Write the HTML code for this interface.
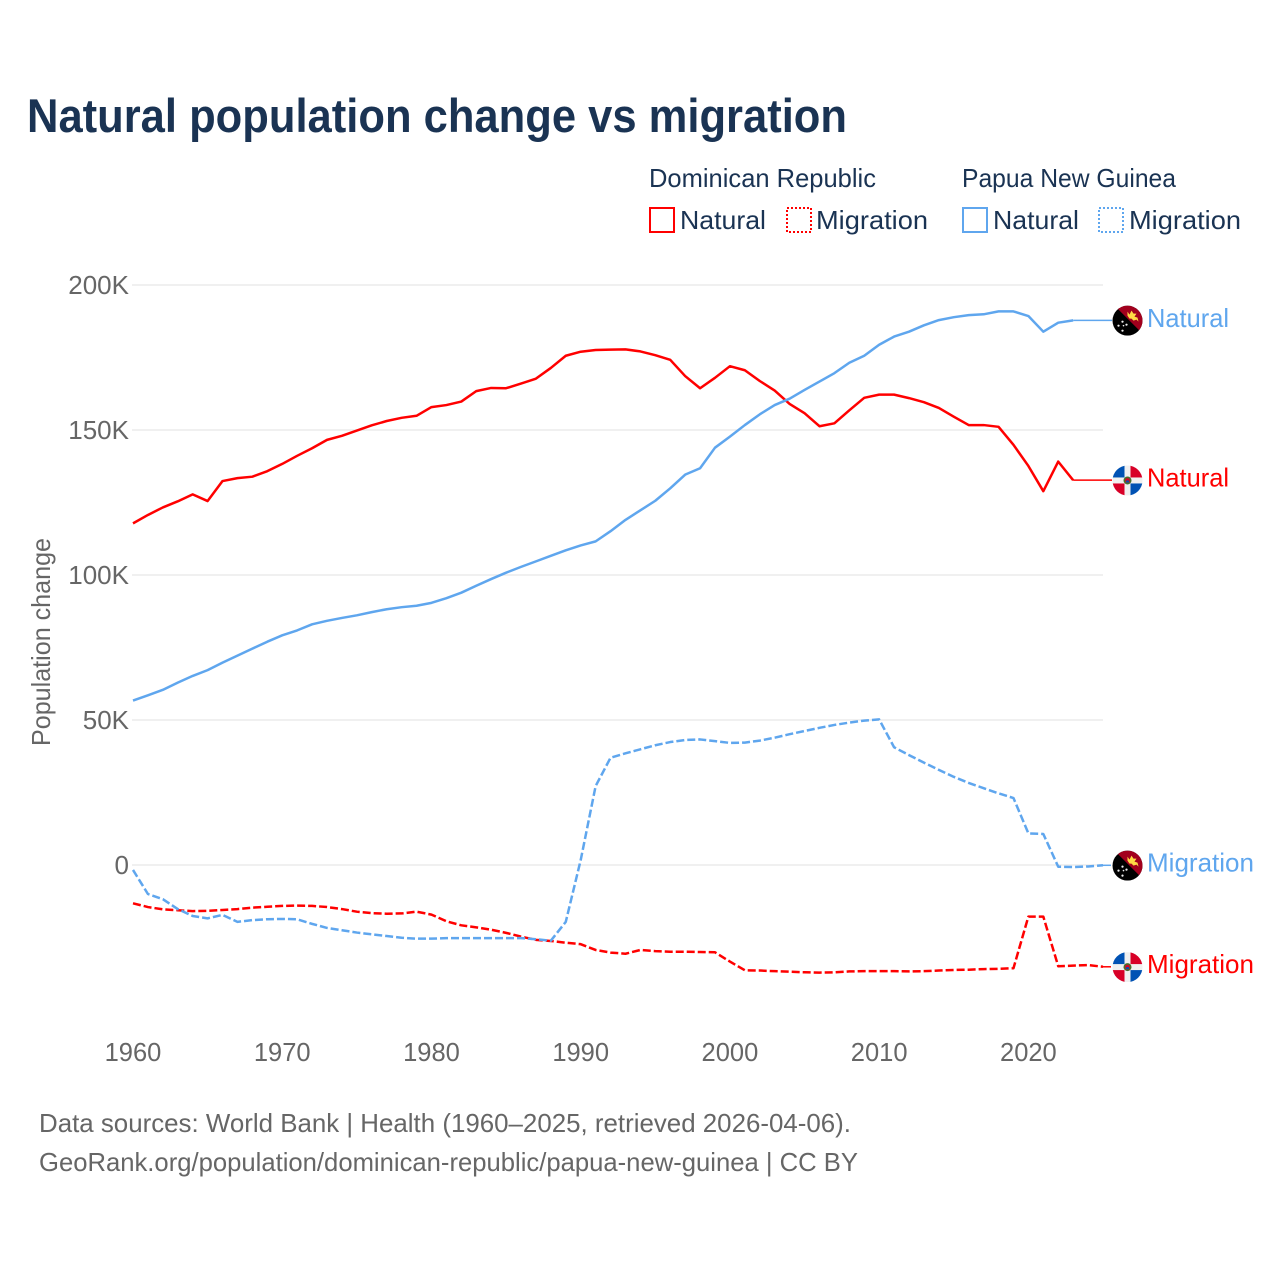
<!DOCTYPE html>
<html lang="en">
<head>
<meta charset="utf-8">
<title>Natural population change vs migration</title>
<style>
html,body{margin:0;padding:0;background:#fff}
svg{display:block}
text{font-family:"Liberation Sans",sans-serif}
</style>
</head>
<body>
<svg id="chart" xmlns="http://www.w3.org/2000/svg" width="1280" height="1280" viewBox="0 0 1280 1280">
  <defs>
    <clipPath id="flag-clip"><circle cx="0" cy="0" r="15"/></clipPath>
    <g id="flag-png" clip-path="url(#flag-clip)">
      <rect x="-15" y="-15" width="30" height="30" fill="#000"/>
      <polygon points="-13,-15 15,-15 15,13" fill="#a2001d"/>
      <polygon points="0,-9 2,-6 4,-10 6,-7 9,-7 7,-4 10,-3 11,1 9,-1 6,0 4,-2 2,-2 0,-5" fill="#ffda44"/>
      <circle cx="-5" cy="1" r="1.1" fill="#f0f0f0"/>
      <circle cx="-1" cy="4" r="1.1" fill="#f0f0f0"/>
      <circle cx="-9" cy="5" r="1.1" fill="#f0f0f0"/>
      <circle cx="-4" cy="5" r="0.8" fill="#f0f0f0"/>
      <circle cx="-5" cy="10" r="1.1" fill="#f0f0f0"/>
    </g>
    <g id="flag-dr" clip-path="url(#flag-clip)">
      <rect x="-15" y="-15" width="30" height="30" fill="#f0f0f0"/>
      <rect x="-15" y="-15" width="12" height="12" fill="#0052b4"/>
      <rect x="3" y="-15" width="12" height="12" fill="#d80027"/>
      <rect x="-15" y="3" width="12" height="12" fill="#d80027"/>
      <rect x="3" y="3" width="12" height="12" fill="#0052b4"/>
      <circle cx="0" cy="0" r="4" fill="#496e2d"/>
      <circle cx="0" cy="0" r="2.4" fill="#d80027"/>
      <rect x="-1.4" y="0" width="2.8" height="2" fill="#0052b4"/>
    </g>
  </defs>

  <text x="27" y="132" font-size="47" font-weight="700" fill="#1a3353" textLength="820" lengthAdjust="spacingAndGlyphs">Natural population change vs migration</text>

  <g fill="#1a3353" font-size="26">
    <text x="649" y="187" textLength="227" lengthAdjust="spacingAndGlyphs">Dominican Republic</text>
    <text x="962" y="187" textLength="214" lengthAdjust="spacingAndGlyphs">Papua New Guinea</text>
    <rect x="650" y="208" width="24" height="24" fill="none" stroke="#ff0000" stroke-width="2"/>
    <text x="680" y="229" textLength="86" lengthAdjust="spacingAndGlyphs">Natural</text>
    <rect x="787" y="208" width="24" height="24" fill="none" stroke="#ff0000" stroke-width="2" stroke-dasharray="2 2"/>
    <text x="816" y="229" textLength="112" lengthAdjust="spacingAndGlyphs">Migration</text>
    <rect x="963" y="208" width="24" height="24" fill="none" stroke="#5fa6ee" stroke-width="2"/>
    <text x="993" y="229" textLength="86" lengthAdjust="spacingAndGlyphs">Natural</text>
    <rect x="1099" y="208" width="24" height="24" fill="none" stroke="#5fa6ee" stroke-width="2" stroke-dasharray="2 2"/>
    <text x="1129" y="229" textLength="112" lengthAdjust="spacingAndGlyphs">Migration</text>
  </g>

  <g id="grid"></g>
  <g id="y-axis"></g>
  <g id="x-axis"></g>
  <text transform="translate(50,642) rotate(-90)" text-anchor="middle" font-size="26" fill="#666666" textLength="208" lengthAdjust="spacingAndGlyphs">Population change</text>
  <g id="series"></g>

  <g font-size="26" fill="#666666">
    <text x="39" y="1132" textLength="812" lengthAdjust="spacingAndGlyphs">Data sources: World Bank | Health (1960–2025, retrieved 2026-04-06).</text>
    <text x="39" y="1171" textLength="819" lengthAdjust="spacingAndGlyphs">GeoRank.org/population/dominican-republic/papua-new-guinea | CC BY</text>
  </g>
</svg>

<script>
// Values in thousands of people per year, starting at 1960.
const startYear = 1960;
const endYear = 2025;
const yTickValues = [0, 50, 100, 150, 200];
const yTickLabels = ["0", "50K", "100K", "150K", "200K"];
const xTickYears = [1960, 1970, 1980, 1990, 2000, 2010, 2020];

const drNatural = [117.8,120.7,123.3,125.4,127.8,125.5,132.4,133.4,133.9,135.8,138.3,141.1,143.7,146.6,148.0,149.8,151.6,153.1,154.2,154.9,157.9,158.6,159.8,163.4,164.5,164.4,166.0,167.7,171.4,175.6,177.0,177.6,177.7,177.8,177.1,175.8,174.2,168.6,164.4,168.0,172.0,170.6,166.9,163.6,159.0,155.8,151.3,152.3,156.8,161.1,162.2,162.2,161.0,159.6,157.6,154.6,151.7,151.7,151.1,144.9,137.6,128.9,139.1,132.7];
const pngNatural = [56.7,58.5,60.4,62.9,65.2,67.2,69.8,72.2,74.6,77.0,79.2,80.9,83.0,84.2,85.2,86.1,87.2,88.2,88.9,89.4,90.4,92.0,93.9,96.3,98.6,100.8,102.8,104.7,106.6,108.5,110.2,111.6,115.1,119.0,122.3,125.6,129.9,134.6,136.8,143.9,147.7,151.7,155.4,158.6,160.8,163.8,166.7,169.6,173.2,175.6,179.4,182.2,183.9,186.1,187.9,188.9,189.6,189.9,190.9,190.9,189.3,183.9,187.0,187.8];
const drMigration = [-13.2,-14.5,-15.3,-15.6,-15.9,-15.8,-15.5,-15.2,-14.7,-14.4,-14.1,-14.0,-14.1,-14.5,-15.2,-16.1,-16.6,-16.8,-16.7,-16.1,-17.1,-19.4,-20.8,-21.5,-22.3,-23.4,-24.7,-25.8,-26.2,-26.8,-27.3,-29.3,-30.2,-30.6,-29.3,-29.7,-29.9,-29.9,-30.0,-30.1,-33.3,-36.3,-36.4,-36.6,-36.8,-37.0,-37.1,-37.0,-36.7,-36.6,-36.6,-36.6,-36.7,-36.6,-36.4,-36.2,-36.1,-35.9,-35.8,-35.6,-17.8,-17.8,-34.9,-34.7,-34.5,-35.1];
const pngMigration = [-1.7,-10.0,-11.8,-15.2,-17.6,-18.4,-17.2,-19.6,-19.0,-18.7,-18.6,-18.7,-20.3,-21.7,-22.5,-23.3,-23.9,-24.5,-25.1,-25.4,-25.4,-25.2,-25.2,-25.2,-25.2,-25.2,-25.2,-25.6,-26.1,-19.6,1.7,27.2,37.0,38.5,39.9,41.3,42.4,43.1,43.3,42.7,42.1,42.2,42.9,43.9,45.1,46.2,47.3,48.3,49.1,49.8,50.2,40.6,37.9,35.3,32.8,30.4,28.3,26.5,24.7,23.1,10.9,10.7,-0.6,-0.7,-0.5,-0.1];

const SVG_NS = "http://www.w3.org/2000/svg";
const plotLeft = 133, plotRight = 1103, y0Pixel = 865, pxPerThousand = 2.9, connectorEnd = 1112;

function xScale(year) {
  return plotLeft + (year - startYear) * (plotRight - plotLeft) / (endYear - startYear);
}
function yScale(value) {
  return y0Pixel - value * pxPerThousand;
}
function make(tag, attrs, parent) {
  const el = document.createElementNS(SVG_NS, tag);
  for (const k in attrs) el.setAttribute(k, attrs[k]);
  parent.appendChild(el);
  return el;
}

const grid = document.getElementById("grid");
const yAxis = document.getElementById("y-axis");
const xAxis = document.getElementById("x-axis");
const seriesLayer = document.getElementById("series");

yTickValues.forEach(function (v, i) {
  const line = make("line", {x1: plotLeft - 1, x2: plotRight, y1: yScale(v), y2: yScale(v), stroke: "#ebebeb", "stroke-width": 1.5}, grid);
  
  
  const label = make("text", {x: 129, y: yScale(v) + 9, "text-anchor": "end", "font-size": 26, fill: "#666666"}, yAxis);
  label.textContent = yTickLabels[i];
  
  
});

xTickYears.forEach(function (year) {
  const label = make("text", {x: xScale(year), y: 1061, "text-anchor": "middle", "font-size": 25.5, fill: "#666666"}, xAxis);
  label.textContent = String(year);
  
  
});

function drawSeries(values, color, dashed, flagId, labelText, seriesName) {
  const pts = values.map(function (v, i) {
    return xScale(startYear + i).toFixed(2) + "," + yScale(v).toFixed(2);
  });
  const attrs = {points: pts.join(" "), fill: "none", stroke: color, "stroke-width": 2.5, "stroke-linejoin": "round"};
  if (dashed) attrs["stroke-dasharray"] = "8 3";
  const line = make("polyline", attrs, seriesLayer);
  
  

  const last = values[values.length - 1];
  const lastX = xScale(startYear + values.length - 1);
  const lastY = yScale(last);

  const cAttrs = {x1: lastX, y1: lastY, x2: connectorEnd, y2: lastY, stroke: color, "stroke-width": 1.5};
  if (dashed) cAttrs["stroke-dasharray"] = "8 3";
  const connector = make("line", cAttrs, seriesLayer);
  
  

  const flag = make("use", {href: flagId, transform: "translate(1127.5," + (lastY + 0.3) + ")"}, seriesLayer);
  
  

  const label = make("text", {x: 1147, y: lastY + (dashed ? 6 : 6.5), "font-size": 26, fill: color, textLength: dashed ? 107 : 82, lengthAdjust: "spacingAndGlyphs"}, seriesLayer);
  label.textContent = labelText;
  
  
}

drawSeries(drMigration, "#ff0000", true, "#flag-dr", "Migration", "dr-migration");
drawSeries(pngMigration, "#5fa6ee", true, "#flag-png", "Migration", "png-migration");
drawSeries(drNatural, "#ff0000", false, "#flag-dr", "Natural", "dr-natural");
drawSeries(pngNatural, "#5fa6ee", false, "#flag-png", "Natural", "png-natural");
</script>
</body>
</html>
